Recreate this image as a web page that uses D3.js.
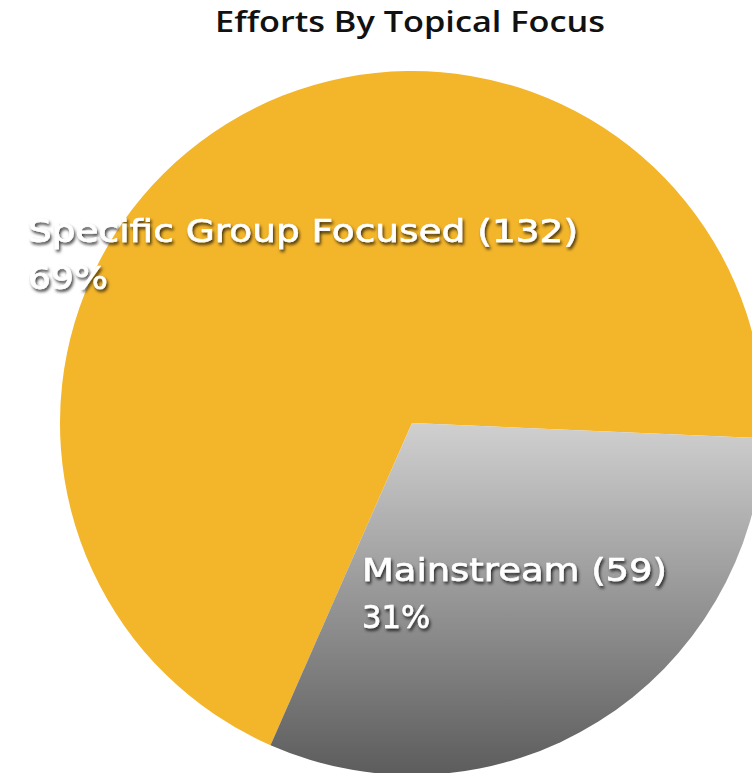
<!DOCTYPE html>
<html><head><meta charset="utf-8">
<script src="https://cdn.jsdelivr.net/npm/d3@7"></script>
<style>html,body{margin:0;padding:0;background:#fff;overflow:hidden}</style>
</head><body>
<svg id="c" width="752" height="773"></svg>
<script>
const categories = ["Specific Group Focused", "Mainstream"];
const values = [132, 59];
const percents = ["69%", "31%"];

const W = 752, H = 773;
const svg = d3.select("#c");
const defs = svg.append("defs");
const cx = 412, cy = 423, r = 352;
const grad = defs.append("linearGradient").attr("id","g").attr("gradientUnits","userSpaceOnUse")
  .attr("x1",0).attr("y1",0).attr("x2",0).attr("y2",r);
grad.append("stop").attr("offset","0%").attr("stop-color","#d0d0d0");
grad.append("stop").attr("offset","100%").attr("stop-color","#5c5c5c");
const f = defs.append("filter").attr("id","sh").attr("x","-10%").attr("y","-30%").attr("width","130%").attr("height","180%");
f.append("feDropShadow").attr("dx",1.5).attr("dy",2.5).attr("stdDeviation",1.6).attr("flood-color","#000").attr("flood-opacity",0.75);

const deg = Math.PI/180;
const total = d3.sum(values);
const a0 = 92.5*deg - 2*Math.PI*values[0]/total;
const pie = d3.pie().sort(null).startAngle(a0).endAngle(a0 + 2*Math.PI);
const arcs = pie(values);
const arc = d3.arc().innerRadius(0).outerRadius(r);
const colors = ["#f3b52a", "url(#g)"];
const g = svg.append("g").attr("transform",`translate(${cx},${cy})`);
g.selectAll("path").data(arcs).join("path").attr("d",arc).attr("fill",(d,i)=>colors[i]);

svg.append("text").attr("x",410).attr("y",32).attr("text-anchor","middle")
  .attr("font-family","Open Sans, DejaVu Sans").attr("font-weight","600").attr("font-size",28)
  .attr("textLength",390).attr("lengthAdjust","spacingAndGlyphs").attr("fill","#111")
  .text("Efforts By Topical Focus");

const labelPos = [{x:28,y:242,w:550},{x:362,y:581,w:305}];
const pctW = [80, 68];
categories.forEach((c,i)=>{
  const t = svg.append("g").attr("filter","url(#sh)").attr("fill","#fff")
    .attr("stroke","#fff").attr("stroke-width",0.6)
    .attr("font-family","DejaVu Sans").attr("font-size",32.5);
  t.append("text").attr("x",labelPos[i].x).attr("y",labelPos[i].y)
    .attr("textLength",labelPos[i].w).attr("lengthAdjust","spacingAndGlyphs")
    .text(`${c} (${values[i]})`);
  t.append("text").attr("x",labelPos[i].x).attr("y",labelPos[i].y+47)
    .attr("textLength",pctW[i]).attr("lengthAdjust","spacingAndGlyphs")
    .text(percents[i]);
});
</script>
</body></html>
